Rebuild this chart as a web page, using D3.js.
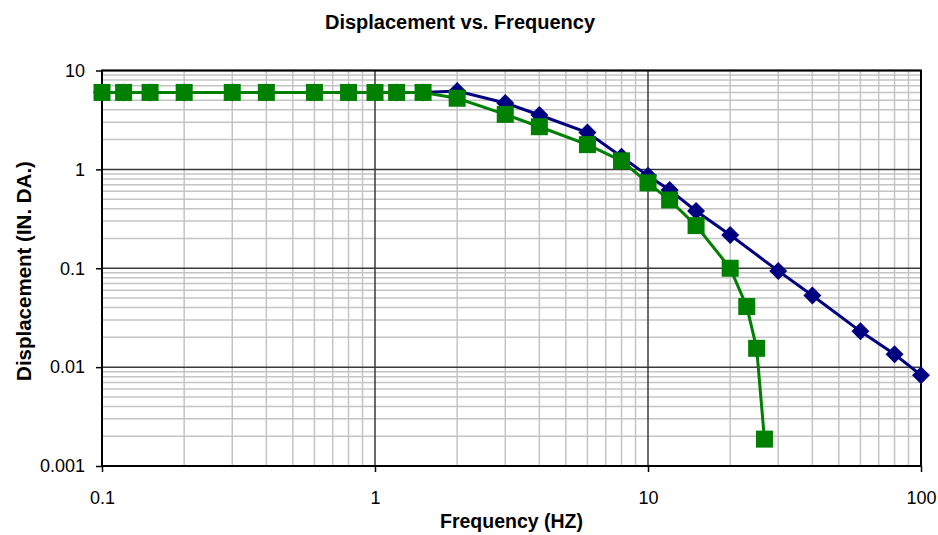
<!DOCTYPE html>
<html>
<head>
<meta charset="utf-8">
<script src="https://cdn.jsdelivr.net/npm/d3@7"></script>
<style>
body{margin:0;background:#fff;}
text{font-family:"Liberation Sans",Arial,sans-serif;fill:#000;}
</style>
</head>
<body>
<div id="chart"></div>
<script>
// frequency (Hz) and displacement (in. DA.)
var freqBlue = [0.1,0.12,0.15,0.2,0.3,0.4,0.6,0.8,1,1.2,1.5,2,3,4,6,8,10,12,15,20,30,40,60,80,100]
var dispBlue = [6,6,6,6,6,6,6,6,6,6,6,6.2,4.7,3.55,2.36,1.34,0.86,0.62,0.38,0.217,0.094,0.053,0.023,0.0135,0.0083]

var freqGreen = [0.1,0.12,0.15,0.2,0.3,0.4,0.6,0.8,1,1.2,1.5,2,3,4,6,8,10,12,15,20,23,25,26.7]
var dispGreen = [6,6,6,6,6,6,6,6,6,6,6,5.24,3.6,2.7,1.78,1.22,0.73,0.49,0.27,0.1,0.041,0.0155,0.00187]

var xTicks = [0.1,1,10,100]
var yTicks = [0.001,0.01,0.1,1,10]
var tickLabel = {0.001:"0.001",0.01:"0.01",0.1:"0.1",1:"1",10:"10",100:"100"}

var width = 938,
height = 535
// plot area (window.top is taken, so prefixed names)
var pLeft = 102, pRight = 921, pTop = 70.5, pBottom = 466

var svg = d3.select("#chart").append("svg")
.attr("width", width)
.attr("height", height)

var x = d3.scaleLog().domain([0.1,100]).range([pLeft,pRight])
var y = d3.scaleLog().domain([0.001,10]).range([pBottom,pTop])

// minor grid: 2..9 inside each decade
var minorX = [], minorY = []
xTicks.slice(0,-1).forEach(function(d){ for (var k=2;k<10;k++) minorX.push(d*k) })
yTicks.slice(0,-1).forEach(function(d){ for (var k=2;k<10;k++) minorY.push(d*k) })

var grid = svg.append("g")
grid.selectAll(".vmin").data(minorX).enter().append("line")
.attr("x1",function(d){return x(d)}).attr("x2",function(d){return x(d)})
.attr("y1",pTop).attr("y2",pBottom)
.attr("stroke","#c4c4c4").attr("stroke-width",1.5)
grid.selectAll(".hmin").data(minorY).enter().append("line")
.attr("y1",function(d){return y(d)}).attr("y2",function(d){return y(d)})
.attr("x1",pLeft).attr("x2",pRight)
.attr("stroke","#c4c4c4").attr("stroke-width",1.5)

// major grid
grid.selectAll(".vmaj").data(xTicks).enter().append("line")
.attr("x1",function(d){return x(d)}).attr("x2",function(d){return x(d)})
.attr("y1",pTop).attr("y2",pBottom)
.attr("stroke","#3a3a3a").attr("stroke-width",1.5)
grid.selectAll(".hmaj").data(yTicks).enter().append("line")
.attr("y1",function(d){return y(d)}).attr("y2",function(d){return y(d)})
.attr("x1",pLeft).attr("x2",pRight)
.attr("stroke","#3a3a3a").attr("stroke-width",1.5)

// plot frame
svg.append("rect")
.attr("x",pLeft).attr("y",pTop)
.attr("width",pRight-pLeft).attr("height",pBottom-pTop)
.attr("fill","none").attr("stroke","#000").attr("stroke-width",2)

// axes
svg.append("g")
.attr("transform","translate(0,"+pBottom+")")
.call(d3.axisBottom(x).tickValues(xTicks).tickSize(6).tickSizeOuter(0).tickPadding(19)
.tickFormat(function(d){return tickLabel[d]}))
svg.append("g")
.attr("transform","translate("+pLeft+",0)")
.call(d3.axisLeft(y).tickValues(yTicks).tickSize(6).tickSizeOuter(0).tickPadding(11)
.tickFormat(function(d){return tickLabel[d]}))
svg.selectAll(".domain").remove()
svg.selectAll(".tick line").attr("stroke","#000").attr("stroke-width",1.5)
svg.selectAll(".tick text").style("font-size","18px").style("font-family","Liberation Sans, Arial, sans-serif").attr("fill","#000")

// series
var line = d3.line()
.x(function(d){return x(d[0])})
.y(function(d){return y(d[1])})

var blue = d3.zip(freqBlue,dispBlue)
var green = d3.zip(freqGreen,dispGreen)

svg.append("path").datum(blue)
.attr("d",line).attr("fill","none")
.attr("stroke","#000080").attr("stroke-width",3)
svg.selectAll(".diamond").data(blue).enter().append("path")
.attr("d","M0,-9L9,0L0,9L-9,0Z")
.attr("transform",function(d){return "translate("+x(d[0])+","+y(d[1])+")"})
.attr("fill","#000080")

svg.append("path").datum(green)
.attr("d",line).attr("fill","none")
.attr("stroke","#008000").attr("stroke-width",3)
svg.selectAll(".square").data(green).enter().append("rect")
.attr("x",function(d){return x(d[0])-8.5})
.attr("y",function(d){return y(d[1])-8.5})
.attr("width",17).attr("height",17)
.attr("fill","#008000")

// titles
svg.append("text")
.attr("x",460).attr("y",29)
.attr("text-anchor","middle")
.style("font-size","20px").style("font-weight","bold")
.text("Displacement vs. Frequency")

svg.append("text")
.attr("x",(pLeft+pRight)/2).attr("y",528)
.attr("text-anchor","middle")
.style("font-size","19.5px").style("font-weight","bold")
.text("Frequency (HZ)")

svg.append("text")
.attr("transform","translate(31,271) rotate(-90)")
.attr("text-anchor","middle")
.style("font-size","20.5px").style("font-weight","bold")
.text("Displacement (IN. DA.)")
</script>
</body>
</html>
